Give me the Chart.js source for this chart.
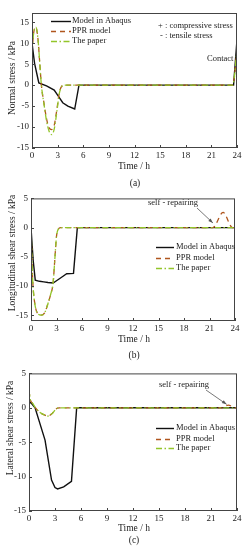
<!DOCTYPE html>
<html>
<head>
<meta charset="utf-8">
<script src="https://cdn.jsdelivr.net/npm/chart.js@4/dist/chart.umd.min.js"></script>
<style>
html, body { margin: 0; padding: 0; background: #fff; }
body { width: 248px; height: 550px; position: relative; overflow: hidden; }
canvas { position: absolute; left: 0; }
</style>
</head>
<body>
<canvas id="chartA" style="top:0px" width="248" height="190"></canvas>
<canvas id="chartB" style="top:190px" width="248" height="175"></canvas>
<canvas id="chartC" style="top:365px" width="248" height="185"></canvas>
<script>
const seriesNames = ['Model in Abaqus', 'PPR model', 'The paper'];
const timeTicks = [0, 3, 6, 9, 12, 15, 18, 21, 24];

// (a) normal stress
const aAbaqusT = [0, 0.3, 0.8, 1.7, 2.6, 3.0, 3.6, 4.2, 5.0, 5.5, 23.6, 24];
const aAbaqusS = [10, 5.2, 0.5, -0.2, -1.2, -2.4, -4.2, -5.0, -5.7, 0, 0, 10.8];
const aPprT = [0, 0.2, 0.45, 0.7, 0.9, 1.1, 1.4, 1.7, 2.0, 2.3, 2.6, 2.9, 3.2, 3.5, 3.8, 23.5, 24];
const aPprS = [8, 12.5, 13.8, 11, 5.5, 0, -4.3, -8, -10.2, -10.6, -9.6, -6, -1.8, -0.2, 0, 0, 8];
const aPaperT = [0, 0.2, 0.45, 0.7, 0.9, 1.1, 1.4, 1.7, 2.0, 2.3, 2.6, 2.9, 3.2, 3.5, 3.8, 23.5, 24];
const aPaperS = [8, 12.5, 13.8, 11, 5.5, 0, -4.5, -8.5, -11, -11.8, -10.5, -6.5, -2.0, -0.3, 0, 0, 8.3];
const aYTicks = [-15, -10, -5, 0, 5, 10, 15];

// (b) longitudinal shear stress
const bAbaqusT = [0, 0.25, 0.5, 1.0, 1.5, 2.0, 2.6, 3.0, 3.6, 4.2, 5.0, 5.45, 24];
const bAbaqusS = [0, -5.5, -9.0, -9.2, -9.3, -9.4, -9.5, -9.1, -8.5, -7.9, -7.85, 0, 0];
const bPprT = [0, 0.2, 0.4, 0.7, 1.2, 1.6, 2.0, 2.3, 2.6, 2.8, 3.0, 3.2, 3.5, 21.4, 22.6, 23.7, 24];
const bPprS = [0, -9, -12.5, -14.5, -15, -14.6, -13, -11.5, -9.5, -5.5, -1.5, -0.3, 0, 0, 2.6, 0, 0];
const bPaperT = [0, 0.2, 0.4, 0.7, 1.2, 1.6, 2.0, 2.3, 2.6, 2.8, 3.0, 3.2, 3.5, 24];
const bPaperS = [0, -9, -12.5, -14.5, -15, -14.6, -13, -11.5, -9.5, -5.5, -1.5, -0.3, 0, 0];
const bYTicks = [-15, -10, -5, 0, 5];

// (c) lateral shear stress
const cAbaqusT = [0, 0.3, 0.7, 1.85, 2.6, 3.0, 3.3, 4.0, 4.9, 5.5, 24];
const cAbaqusS = [1.0, 0.6, 0, -4.7, -10.5, -11.6, -11.8, -11.5, -10.7, 0, 0];
const cPprT = [0, 0.15, 0.45, 0.8, 1.2, 1.7, 2.2, 2.7, 3.1, 3.5, 22.2, 23.0, 23.8, 24];
const cPprS = [2.5, 1.2, 0.6, -0.1, -0.6, -1.0, -1.2, -0.8, -0.2, 0, 0, 0.4, 0, 0];
const cPaperT = [0, 0.15, 0.45, 0.8, 1.2, 1.7, 2.2, 2.7, 3.1, 3.5, 24];
const cPaperS = [2.5, 1.2, 0.6, -0.1, -0.6, -1.0, -1.2, -0.8, -0.2, 0, 0];
const cYTicks = [-15, -10, -5, 0, 5];

const FONT = "'Liberation Serif', 'DejaVu Serif', serif";

function pts(t, s) {
    return t.map((v, i) => ({ x: v, y: s[i] }));
}

function seriesSets(abT, abS, pT, pS, gT, gS) {
    return [
        { label: seriesNames[0], data: pts(abT, abS), borderColor: '#111', borderWidth: 1.4,
          tension: 0, order: 3 },
        { label: seriesNames[1], data: pts(pT, pS), borderColor: '#b0561e', borderWidth: 1.3,
          borderDash: [5, 4], cubicInterpolationMode: 'monotone', order: 2 },
        { label: seriesNames[2], data: pts(gT, gS), borderColor: '#93c52a', borderWidth: 1.3,
          borderDash: [6, 2.5, 1.5, 2.5], cubicInterpolationMode: 'monotone', order: 1 }
    ];
}

const panelPlugin = {
    id: 'panel',
    afterDatasetsDraw(chart, args, o) {
        const { ctx, chartArea: ca, scales } = chart;
        const xs = scales.x, ys = scales.y;
        ctx.save();

        // frame + inward ticks
        ctx.strokeStyle = '#444';
        ctx.lineWidth = 1;
        ctx.strokeRect(ca.left + 0.5, ca.top + 0.5, ca.right - ca.left - 1, ca.bottom - ca.top - 1);
        ctx.beginPath();
        xs.ticks.forEach(t => {
            const px = Math.round(xs.getPixelForValue(t.value)) + 0.5;
            ctx.moveTo(px, ca.bottom);
            ctx.lineTo(px, ca.bottom - 3);
        });
        ys.ticks.forEach(t => {
            const py = Math.round(ys.getPixelForValue(t.value)) + 0.5;
            ctx.moveTo(ca.left, py);
            ctx.lineTo(ca.left + 3, py);
        });
        ctx.stroke();

        ctx.fillStyle = '#222';
        ctx.textBaseline = 'middle';

        // axis titles
        ctx.font = '9.5px ' + FONT;
        ctx.textAlign = 'center';
        ctx.fillText('Time / h', o.xTitle.x, o.xTitle.y);
        ctx.fillText(o.tag.text, o.tag.x, o.tag.y);
        ctx.save();
        ctx.translate(o.yTitle.x, o.yTitle.y);
        ctx.rotate(-Math.PI / 2);
        ctx.fillText(o.yTitle.text, 0, 0);
        ctx.restore();

        // legend
        ctx.font = '8.5px ' + FONT;
        ctx.textAlign = 'left';
        const lg = o.legend;
        lg.rows.forEach((ry, i) => {
            const ds = chart.data.datasets[i];
            ctx.save();
            ctx.strokeStyle = ds.borderColor;
            ctx.lineWidth = ds.borderWidth;
            ctx.setLineDash(ds.borderDash || []);
            ctx.beginPath();
            ctx.moveTo(lg.x1, ry + 0.5);
            ctx.lineTo(lg.x2, ry + 0.5);
            ctx.stroke();
            ctx.restore();
            ctx.fillText(ds.label, lg.tx, ry);
        });

        // notes
        (o.notes || []).forEach(n => ctx.fillText(n.text, n.x, n.y));

        // arrow annotation
        if (o.arrow) {
            const a = o.arrow;
            const tx = xs.getPixelForValue(a.toT), ty = ys.getPixelForValue(a.toS);
            ctx.fillText(a.text, a.x, a.y);
            ctx.strokeStyle = '#555';
            ctx.lineWidth = 0.8;
            ctx.beginPath();
            ctx.moveTo(a.fx, a.fy);
            ctx.lineTo(tx, ty);
            ctx.stroke();
            const ang = Math.atan2(ty - a.fy, tx - a.fx);
            ctx.fillStyle = '#555';
            ctx.beginPath();
            ctx.moveTo(tx, ty);
            ctx.lineTo(tx - 5 * Math.cos(ang - 0.35), ty - 5 * Math.sin(ang - 0.35));
            ctx.lineTo(tx - 5 * Math.cos(ang + 0.35), ty - 5 * Math.sin(ang + 0.35));
            ctx.closePath();
            ctx.fill();
        }
        ctx.restore();
    }
};

function makePanel(id, datasets, yMin, yMax, yTicks, box, panelOpts) {
    const canvas = document.getElementById(id);
    return new Chart(canvas.getContext('2d'), {
        type: 'line',
        data: { datasets: datasets },
        options: {
            responsive: false,
            animation: false,
            events: [],
            layout: { padding: { left: 0, right: box.right, top: box.top, bottom: 0 } },
            elements: { point: { radius: 0 }, line: { fill: false } },
            plugins: {
                legend: { display: false },
                tooltip: { enabled: false },
                panel: panelOpts
            },
            scales: {
                x: {
                    type: 'linear', min: 0, max: 24,
                    afterFit: s => { s.height = box.bottomH; },
                    afterBuildTicks: s => { s.ticks = timeTicks.map(v => ({ value: v })); },
                    grid: { display: false, drawTicks: false },
                    border: { display: false },
                    ticks: { padding: 2, color: '#222', font: { family: FONT, size: 9 }, maxRotation: 0 }
                },
                y: {
                    type: 'linear', min: yMin, max: yMax,
                    afterFit: s => { s.width = box.left; },
                    afterBuildTicks: s => { s.ticks = yTicks.map(v => ({ value: v })); },
                    grid: { display: false, drawTicks: false },
                    border: { display: false },
                    ticks: { padding: 3, color: '#222', font: { family: FONT, size: 9 } }
                }
            }
        },
        plugins: [panelPlugin]
    });
}

makePanel('chartA',
    seriesSets(aAbaqusT, aAbaqusS, aPprT, aPprS, aPaperT, aPaperS),
    -15, 17.2, aYTicks,
    { left: 32, right: 11, top: 13, bottomH: 190 - 148 },
    {
        yTitle: { text: 'Normal stress / kPa', x: 12, y: 78 },
        xTitle: { x: 134, y: 166 },
        tag: { text: '(a)', x: 135, y: 183 },
        legend: { x1: 51, x2: 71, tx: 72, rows: [21, 31, 41] },
        notes: [
            { text: '+ : compressive stress', x: 158, y: 26 },
            { text: '- : tensile stress', x: 160, y: 36 },
            { text: 'Contact', x: 207, y: 59 }
        ]
    });

makePanel('chartB',
    seriesSets(bAbaqusT, bAbaqusS, bPprT, bPprS, bPaperT, bPaperS),
    -16, 5, bYTicks,
    { left: 31, right: 13, top: 5, bottomH: 175 - 131 },
    {
        yTitle: { text: 'Longitudinal shear stress / kPa', x: 12, y: 63 },
        xTitle: { x: 134, y: 149 },
        tag: { text: '(b)', x: 134, y: 165 },
        legend: { x1: 156, x2: 174, tx: 176, rows: [57, 68, 78] },
        notes: [],
        arrow: { text: 'self - repairing', x: 148, y: 13, fx: 197, fy: 18, toT: 21.4, toS: 0.8 }
    });

makePanel('chartC',
    seriesSets(cAbaqusT, cAbaqusS, cPprT, cPprS, cPaperT, cPaperS),
    -15, 5, cYTicks,
    { left: 29, right: 11, top: 7, bottomH: 185 - 146 },
    {
        yTitle: { text: 'Lateral shear stress / kPa', x: 10, y: 63 },
        xTitle: { x: 134, y: 163 },
        tag: { text: '(c)', x: 134, y: 175 },
        legend: { x1: 156, x2: 174, tx: 176, rows: [63, 74, 83] },
        notes: [],
        arrow: { text: 'self - repairing', x: 159, y: 20, fx: 206, fy: 25, toT: 22.8, toS: 0.5 }
    });
</script>
</body>
</html>
